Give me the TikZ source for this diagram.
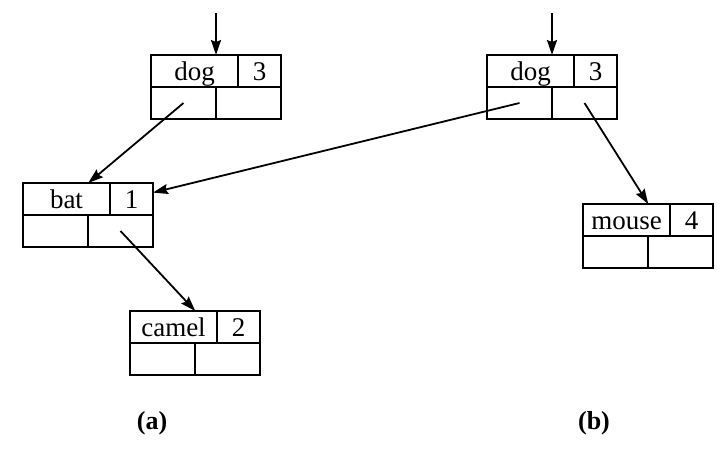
\documentclass[tikz,border=0pt]{standalone}
\usepackage{fontspec}
\setmainfont{Liberation Serif}
\usetikzlibrary{arrows.meta,calc}
\tikzset{
  cell/.style={draw, line width=1.8pt, inner sep=0pt, outer sep=0pt,
    minimum height=32pt, text height=25pt, text depth=7pt,
    font=\fontsize{27}{27}\selectfont},
  arr/.style={line width=1.8pt, -{Stealth[length=15pt,width=10pt,inset=2pt]}},
  lbl/.style={font=\fontsize{26}{26}\selectfont\bfseries, inner sep=0pt}
}
\newcommand\rec[5]{%
  \node[cell, minimum width=87pt, anchor=north west] (#1-k) at (#2,#3) {#4};
  \node[cell, minimum width=43pt, anchor=north west] (#1-c) at (#1-k.north east) {#5};
  \node[cell, minimum width=65pt, anchor=north west] (#1-l) at (#1-k.south west) {};
  \node[cell, minimum width=65pt, anchor=north west] (#1-r) at (#1-l.north east) {};
}
\begin{document}
\begin{tikzpicture}[x=1pt,y=-1pt]
\useasboundingbox (0,0) rectangle (728,453);
\rec{dogA}{151}{55}{dog}{3}
\rec{bat}{23}{183}{bat}{1}
\rec{camel}{130}{311}{camel}{2}
\rec{dogB}{487}{55}{dog}{3}
\rec{mouse}{583}{204}{mouse}{4}
\coordinate (inA) at (216,13);
\coordinate (inB) at (552,13);
\draw[arr] (inA) -- (inA |- dogA-k.north);
\draw[arr] (inB) -- (inB |- dogB-k.north);
\draw[arr] (dogA-l.center) -- ($(bat-k.north west)!0.75!(bat-k.north east)$);
\draw[arr] (dogB-l.center) -- ($(bat-c.north east)!0.3!(bat-c.south east)$);
\draw[arr] (bat-r.center) -- ($(camel-k.north west)!0.75!(camel-k.north east)$);
\draw[arr] (dogB-r.center) -- ($(mouse-k.north west)!0.75!(mouse-k.north east)$);
\node[lbl] (la) at (152,423) {(a)};
\node[lbl] (lb) at (594,423) {(b)};
\end{tikzpicture}
\end{document}
